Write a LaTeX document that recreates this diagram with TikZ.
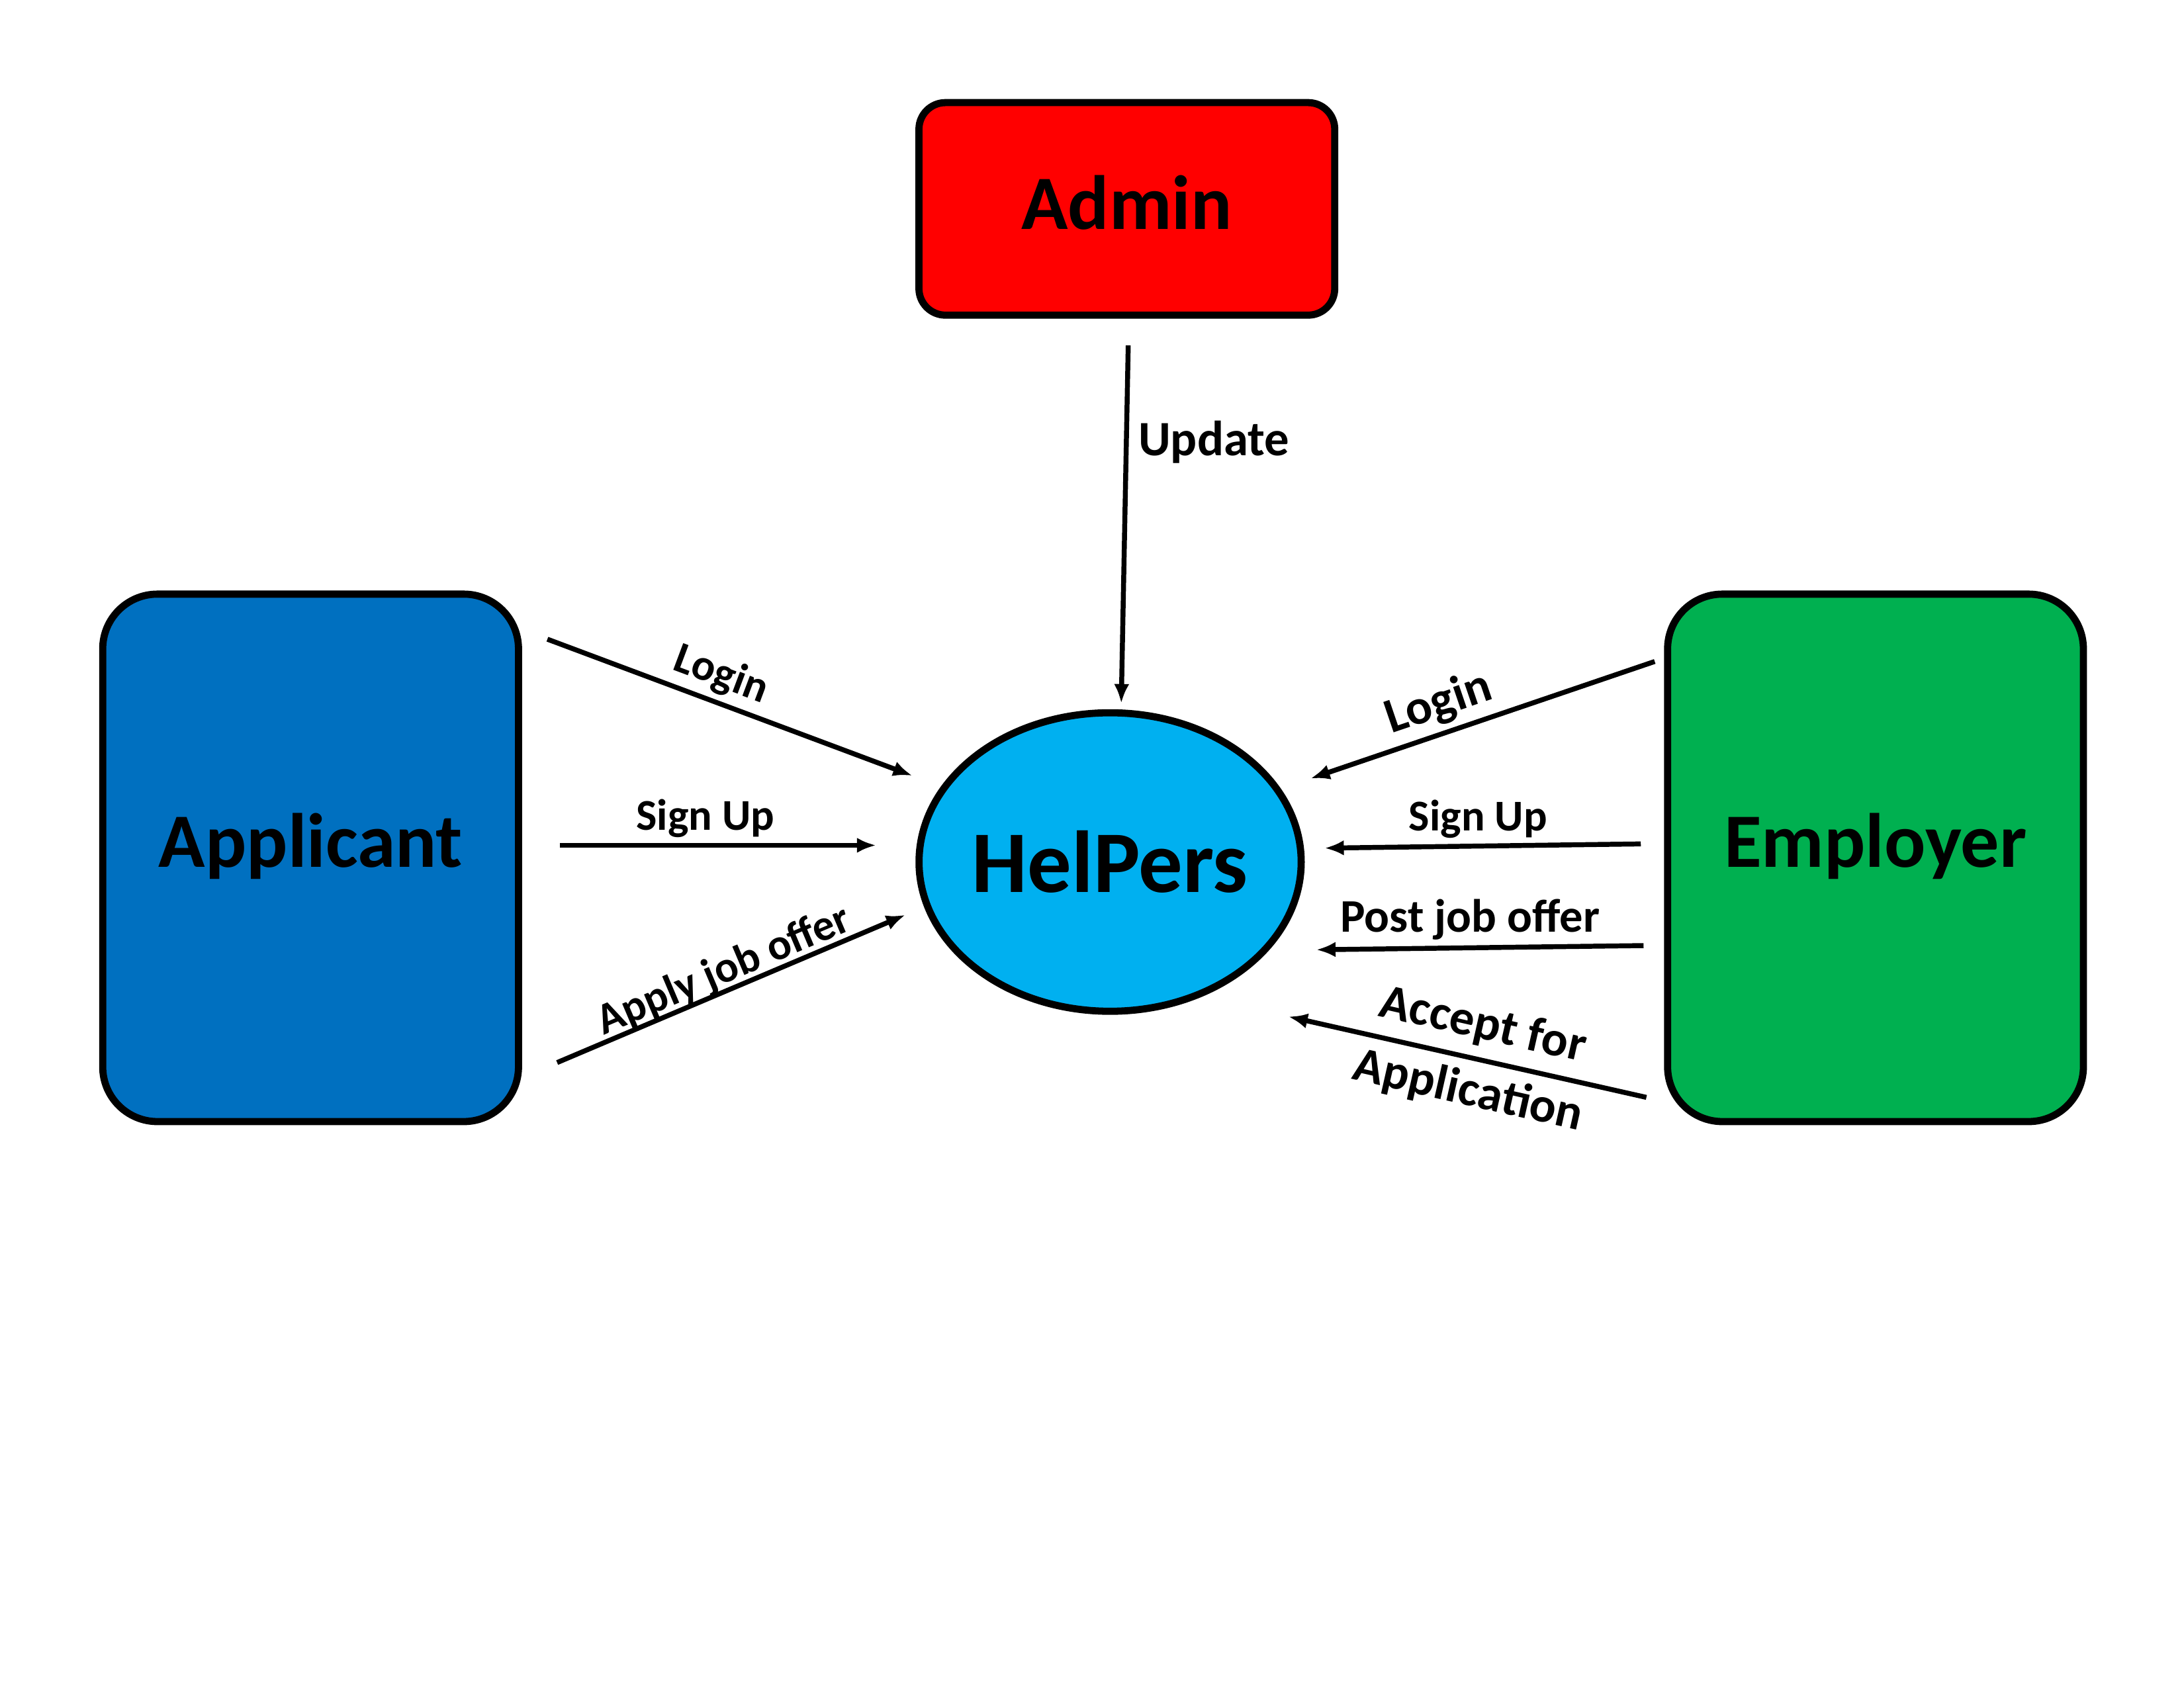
\documentclass[tikz,border=0pt]{standalone}
\usepackage{fontspec}
\setmainfont{Carlito}
\usetikzlibrary{arrows.meta,shapes.geometric}

\definecolor{admred}{HTML}{FF0000}
\definecolor{appblue}{HTML}{0070C0}
\definecolor{empgreen}{HTML}{00B050}
\definecolor{sysblue}{HTML}{00B0F0}

\begin{document}
\begin{tikzpicture}[
    x=0.017819cm, y=-0.017819cm,
    entity/.style={draw, line width=2.6pt, rectangle, rounded corners=0.7cm,
      minimum width=5.32cm, minimum height=6.75cm, text centered,
      text depth=13pt,
      font=\fontsize{28}{34}\selectfont\bfseries},
    adminbox/.style={draw, line width=2.6pt, rectangle, rounded corners=0.34cm,
      minimum width=5.32cm, minimum height=2.72cm, text centered, fill=admred,
      text depth=5pt,
      font=\fontsize{28}{34}\selectfont\bfseries},
    sysproc/.style={draw, line width=2.6pt, ellipse, fill=sysblue,
      minimum width=4.89cm, minimum height=3.82cm, inner sep=0pt, inner xsep=-0.6cm,
      font=\fontsize{32}{38}\selectfont\bfseries},
    arrow/.style={line width=1.8pt,-{Latex[length=7pt,width=5.6pt]}},
    flowlabel/.style={inner sep=2pt, font=\fontsize{16}{19}\selectfont\bfseries},
    biglabel/.style={inner sep=2pt, font=\fontsize{18}{24.6}\selectfont\bfseries}
]
\useasboundingbox (0,0) rectangle (1568,1212);

\node (adm) [adminbox] at (809,150) {Admin};
\node (app) [entity, fill=appblue] at (223,616) {Applicant};
\node (emp) [entity, fill=empgreen] at (1346.5,616) {Employer};
\node (hp)  [sysproc] at (797,619) {HelPers};

\coordinate (updS) at (810,248);   \coordinate (updE) at (805,505);
\coordinate (alogS) at (393,459);  \coordinate (alogE) at (655,557);
\coordinate (asignS) at (402,607); \coordinate (asignE) at (629,607);
\coordinate (applyS) at (400,763); \coordinate (applyE) at (650,657);
\coordinate (elogS) at (1188,475); \coordinate (elogE) at (941,559);
\coordinate (esignS) at (1178,606);\coordinate (esignE) at (951,609);
\coordinate (postS) at (1180,679); \coordinate (postE) at (945,682);
\coordinate (accS) at (1182,788);  \coordinate (accE) at (925,730);

\draw [arrow] (updS) -- node [biglabel, right=1.5pt, pos=0.27] {Update} (updE);
\draw [arrow] (alogS) -- node [flowlabel, above, sloped, pos=0.45] {Login} (alogE);
\draw [arrow] (asignS) -- node [flowlabel, above, pos=0.46] {Sign Up} (asignE);
\draw [arrow] (applyS) -- node [flowlabel, above=-3pt, sloped, pos=0.5] {Apply job offer} (applyE);
\draw [arrow] (elogS) -- node [biglabel, above, sloped, pos=0.6] {Login} (elogE);
\draw [arrow] (esignS) -- node [flowlabel, above, pos=0.515] {Sign Up} (esignE);
\draw [arrow] (postS) -- node [flowlabel, font=\fontsize{17}{20}\selectfont\bfseries, above, pos=0.53] {Post job offer} (postE);
\draw [arrow] (accS) -- node [biglabel, sloped, align=center, pos=0.5, xshift=3pt] {Accept for\\Application} (accE);
\end{tikzpicture}
\end{document}
